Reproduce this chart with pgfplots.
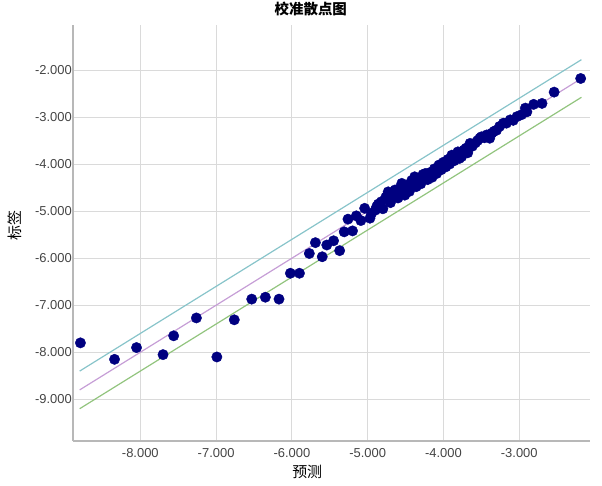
\documentclass[border=0pt]{standalone}
\usepackage{pgfplots}
\pgfplotsset{compat=1.18}
\usepackage{fontspec}
\setmainfont{Liberation Sans}
\newfontfamily\cjk{Noto Sans CJK SC}
\definecolor{dotc}{HTML}{000080}
\definecolor{cyanl}{HTML}{88C4CA}
\definecolor{purpl}{HTML}{C69ED6}
\definecolor{greenl}{HTML}{92C47E}
\definecolor{gridc}{HTML}{DADADA}
\definecolor{axc}{HTML}{B8B8B8}
\definecolor{tickc}{HTML}{444444}
\begin{document}
\begin{tikzpicture}
\useasboundingbox (-73bp,-45bp) rectangle (529bp,441bp);
\begin{axis}[
  scale only axis, width=517bp, height=416bp,
  xmin=-8.888, xmax=-2.067, ymin=-9.886, ymax=-1.043,
  axis lines*=left,
  axis line style={color=axc, line width=1.5bp},
  grid=major, grid style={color=gridc, line width=1bp},
  major tick style={draw=none},
  xtick={-8,-7,-6,-5,-4,-3}, ytick={-9,-8,-7,-6,-5,-4,-3,-2},
  /pgf/number format/assume math mode=true,
  /pgf/number format/.cd, fixed, fixed zerofill, precision=3, 1000 sep={},
  /pgfplots/.cd,
  tick label style={font=\fontsize{13}{13}\selectfont, text=tickc},
  yticklabel style={inner sep=1bp},
  xticklabel style={inner sep=1bp, yshift=-6.5bp},
  every axis title shift=0pt,
  title={\cjk\bfseries\fontsize{14.5}{14.5}\selectfont 校准散点图},
  title style={at={(axis description cs:0.460,1.039)}, anchor=center, inner sep=0pt},
  xlabel={\cjk\fontsize{15}{15}\selectfont 预测},
  xlabel style={at={(axis description cs:0.453,-0.0745)}, anchor=center, inner sep=0pt},
  ylabel={\cjk\fontsize{15}{15}\selectfont 标签},
  ylabel style={at={(axis description cs:-0.112,0.517)}, anchor=center, inner sep=0pt},
  clip=false,
]
\addplot[cyanl, line width=1.2bp] coordinates {(-8.8,-8.4) (-2.18,-1.78)};
\addplot[purpl, line width=1.2bp] coordinates {(-8.8,-8.8) (-2.18,-2.18)};
\addplot[greenl, line width=1.2bp] coordinates {(-8.8,-9.2) (-2.18,-2.58)};
\addplot[only marks, mark=*, mark size=5.2bp, mark options={fill=dotc, draw=dotc}] coordinates {
(-8.79,-7.80) (-8.34,-8.15) (-8.05,-7.90) (-7.70,-8.05) (-7.56,-7.65)
(-7.26,-7.27) (-6.99,-8.10) (-6.76,-7.31) (-6.53,-6.87) (-6.35,-6.83)
(-6.17,-6.87) (-6.02,-6.32) (-5.90,-6.32) (-5.77,-5.90) (-5.69,-5.67)
(-5.60,-5.97) (-5.54,-5.72) (-5.45,-5.63) (-5.37,-5.84) (-5.31,-5.44)
(-5.20,-5.42) (-5.26,-5.17) (-5.15,-5.10) (-5.09,-5.20)
(-5.04,-4.94) (-4.97,-5.15) (-4.95,-5.05) (-4.90,-4.98) (-4.86,-4.85)
(-4.82,-4.80) (-4.80,-4.95) (-4.76,-4.70) (-4.73,-4.59) (-4.70,-4.82)
(-4.67,-4.66) (-4.64,-4.55) (-4.60,-4.72) (-4.57,-4.50) (-4.55,-4.41)
(-4.51,-4.66) (-4.48,-4.45) (-4.45,-4.58) (-4.42,-4.35) (-4.38,-4.27)
(-4.36,-4.48) (-4.33,-4.30) (-4.30,-4.42) (-4.27,-4.22) (-4.24,-4.20)
(-4.21,-4.33) (-4.18,-4.18) (-4.15,-4.28) (-4.12,-4.10) (-4.09,-4.20)
(-4.06,-4.02) (-4.03,-4.12) (-4.00,-3.96) (-3.97,-4.06) (-3.94,-3.90)
(-3.92,-4.00) (-3.89,-3.81) (-3.86,-3.93) (-3.83,-3.80) (-3.79,-3.88)
(-3.76,-3.84) (-3.73,-3.70) (-3.70,-3.66) (-3.68,-3.76) (-3.65,-3.56)
(-3.62,-3.62) (-3.58,-3.55) (-3.55,-3.50) (-3.52,-3.45) (-3.50,-3.42)
(-3.46,-3.44) (-3.43,-3.38) (-3.39,-3.45) (-3.36,-3.34) (-3.33,-3.30)
(-3.30,-3.28) (-3.26,-3.20) (-3.21,-3.13) (-3.17,-3.13) (-3.12,-3.06)
(-3.08,-3.07) (-3.03,-2.99) (-2.97,-2.95) (-2.92,-2.81) (-2.90,-2.89)
(-2.81,-2.73) (-2.70,-2.71) (-2.54,-2.47) (-2.19,-2.18)
(-4.88,-4.90) (-4.62,-4.62) (-4.40,-4.46) (-4.13,-4.16) (-3.98,-3.98)
(-3.81,-3.74) (-4.50,-4.52) (-4.25,-4.30)
};
\end{axis}
\end{tikzpicture}
\end{document}
